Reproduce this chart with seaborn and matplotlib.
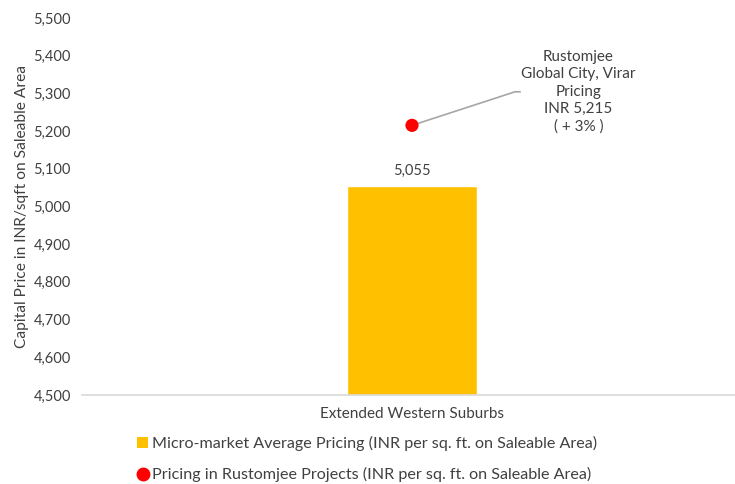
import pandas as pd
import seaborn as sns
import matplotlib.pyplot as plt
from matplotlib.lines import Line2D
from matplotlib.patches import Patch

categories = ['Extended Western Suburbs']
market_avg = [5055]
rustomjee_price = [5215]
y_ticks = [4500, 4600, 4700, 4800, 4900, 5000, 5100, 5200, 5300, 5400, 5500]

sns.set_style('white')
plt.rcParams['font.family'] = ['Lato', 'DejaVu Sans']

df = pd.DataFrame({'category': categories, 'avg': market_avg, 'rust': rustomjee_price})

fig = plt.figure(figsize=(7.35, 4.84), dpi=100)
ax = fig.add_axes([82 / 735, 0.184, 660 / 735, 0.779])

sns.barplot(data=df, x='category', y='avg', color='#FFC000', width=0.196,
            saturation=1, ax=ax)
sns.scatterplot(data=df, x='category', y='rust', color='#FF0000', s=90,
                edgecolor='none', ax=ax, zorder=5)

ax.set_ylim(4500, 5500)
ax.set_xlim(-0.5, 0.5)
ax.set_yticks(y_ticks)
ax.set_yticklabels([f'{v:,}' for v in y_ticks], fontsize=10.5, color='#404040')
ax.tick_params(axis='both', length=0, pad=8)
ax.tick_params(axis='x', labelsize=11, labelcolor='#404040', pad=9)
ax.set_xlabel('')
ax.set_ylabel('Capital Price in INR/sqft on Saleable Area', fontsize=11.2,
              color='#404040', labelpad=3)
for s in ['top', 'right', 'left']:
    ax.spines[s].set_visible(False)
ax.spines['bottom'].set_color('#D9D9D9')
ax.spines['bottom'].set_linewidth(1.2)

# bar label
ax.text(0, market_avg[0] + 20, f'{market_avg[0]:,}', ha='center', va='bottom',
        fontsize=10.5, color='#404040')

# callout for the Rustomjee point
ax.plot([0, 0.156, 0.164], [rustomjee_price[0], 5304, 5304], color='#A6A6A6',
        lw=1.2, zorder=4)
ax.text(0.252, 5304, f'Rustomjee\nGlobal City, Virar\nPricing\nINR {rustomjee_price[0]:,}\n( + 3% )',
        ha='center', va='center', fontsize=11, color='#404040', linespacing=1.3)

handles = [Patch(facecolor='#FFC000', edgecolor='none'),
           Line2D([], [], marker='o', color='none', markerfacecolor='#FF0000',
                  markeredgecolor='none', markersize=10)]
labels = ['Micro-market Average Pricing (INR per sq. ft. on Saleable Area)',
          'Pricing in Rustomjee Projects (INR per sq. ft. on Saleable Area)']
fig.legend(handles, labels, loc='upper left', bbox_to_anchor=(137 / 735, 1 - 436 / 484),
           frameon=False, fontsize=11.6, labelcolor='#404040', handlelength=0.7,
           handletextpad=0.2, labelspacing=1.0, borderaxespad=0, borderpad=0)

fig.savefig('out.png', dpi=100)
